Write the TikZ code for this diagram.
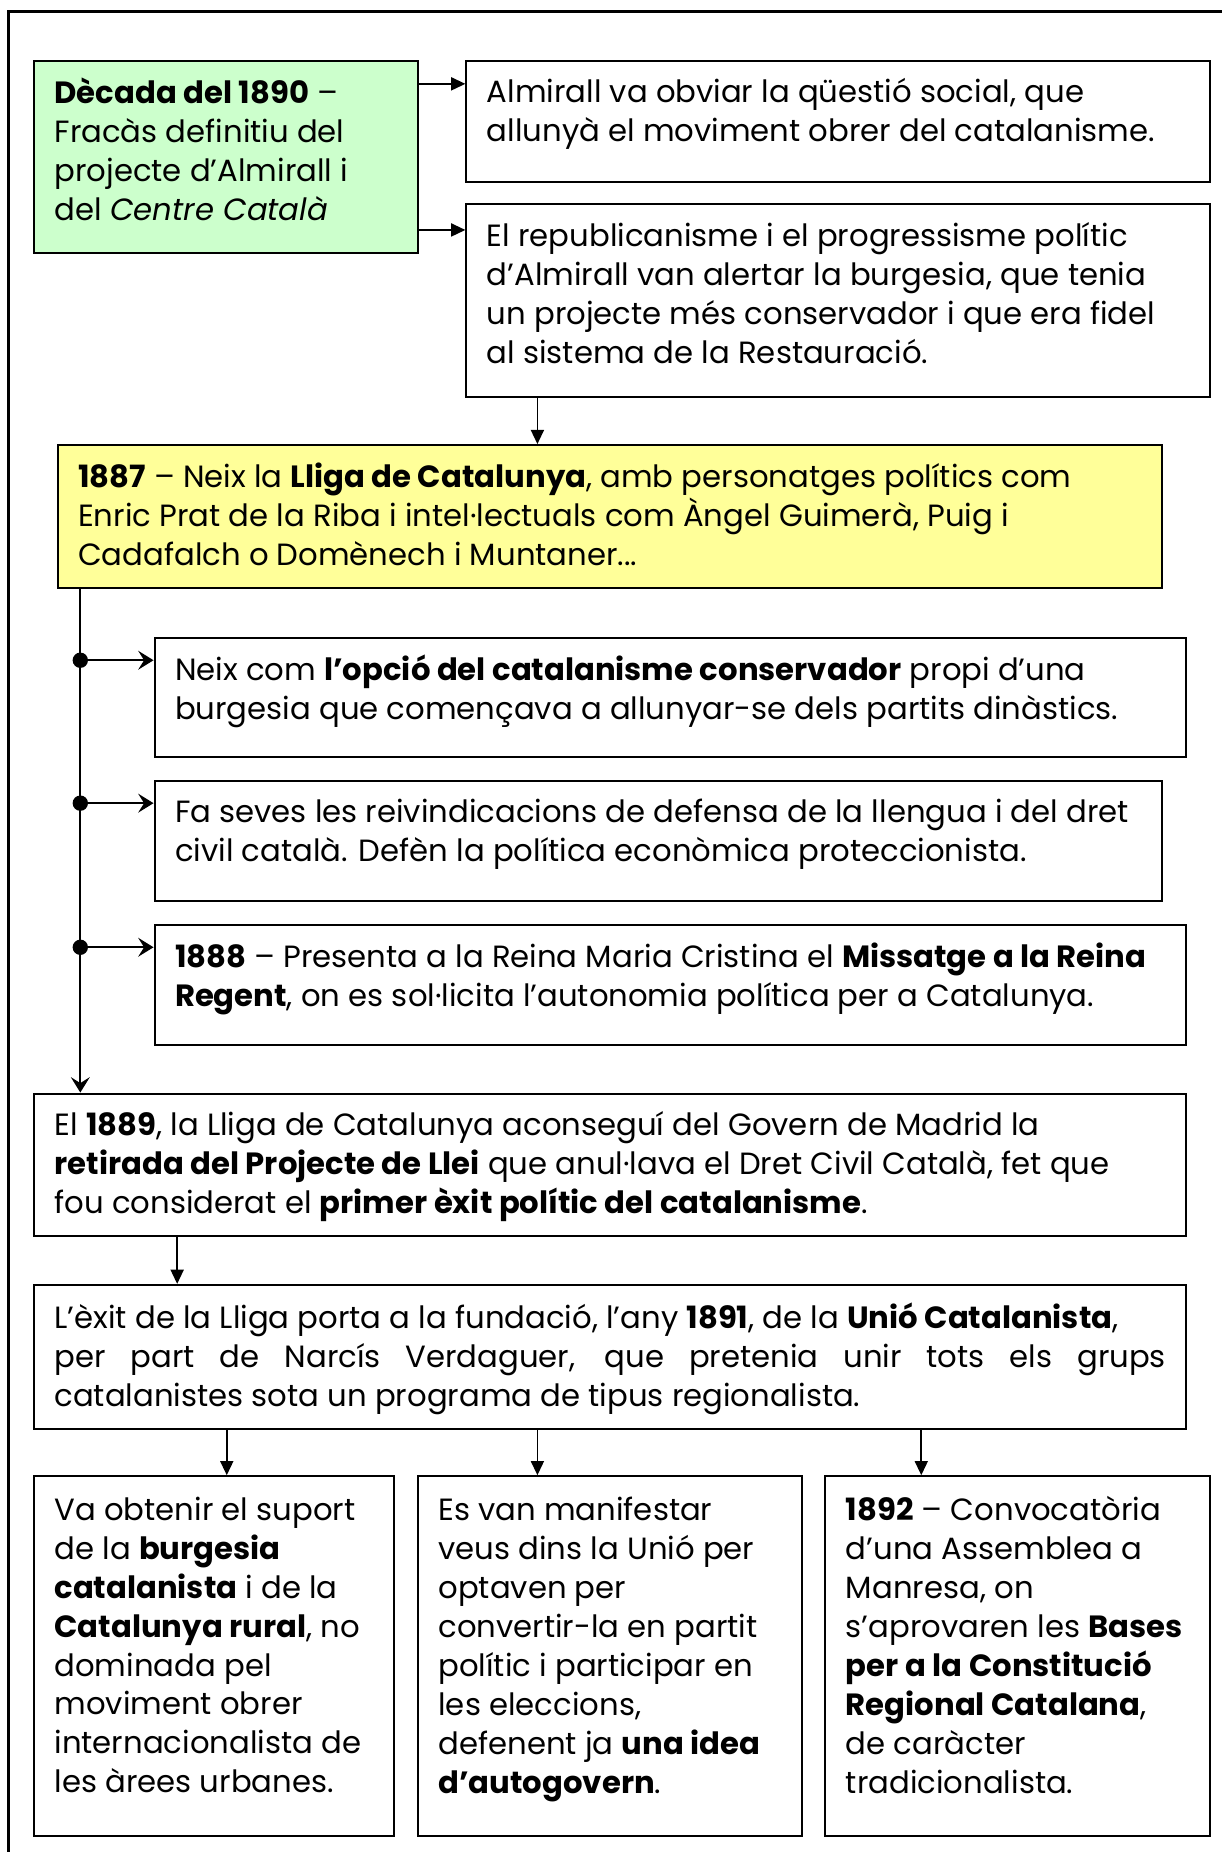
\documentclass[tikz,border=0pt]{standalone}
\usepackage{fontspec}
\setmainfont{Poppins}
\usepackage{tikz}
\usetikzlibrary{arrows.meta, calc}
\definecolor{paleGreen}{HTML}{CCFFCC}
\definecolor{paleYellow}{HTML}{FFFF99}
\tikzset{
    card/.style={rectangle, draw=black, line width=1.7pt, anchor=north west, inner sep=0pt},
    txt/.style={anchor=north west, inner sep=0pt, align=left, font=\fontsize{26}{33}\selectfont,
        execute at begin node=\strut},
    arrow/.style={line width=1.5pt, -{Triangle[length=12pt, width=11pt]}},
    barb/.style={line width=1.5pt, -{Stealth[length=13pt, width=16pt, inset=5pt]}},
    dot/.style={circle, fill=black, inner sep=0pt, minimum size=13pt}
}

\begin{document}
\begin{tikzpicture}[x=1pt, y=-1pt]
    \useasboundingbox (0,0) rectangle (1034,1568);
    % outer frame
    \draw[line width=2.6pt] (7,1570) -- (7,10) -- (1036,10);

    % top row
    \node[card, fill=paleGreen, minimum width=325pt, minimum height=162pt] (green) at (28,51) {};
    \node[txt] (greent) at ([shift={(18,15)}]green.north west)
        {\textbf{Dècada del 1890} –\\ Fracàs definitiu del\\ projecte d’Almirall i\\ del \textit{Centre Català}};
    \node[card, minimum width=630pt, minimum height=102pt] (a1) at (394,51) {};
    \node[txt] (a1t) at ([shift={(18,15)}]a1.north west)
        {Almirall va obviar la qüestió social, que\\ allunyà el moviment obrer del catalanisme.};
    \node[card, minimum width=630pt, minimum height=163pt] (a2) at (394,172) {};
    \node[txt] (a2t) at ([shift={(18,16)}]a2.north west)
        {El republicanisme i el progressisme polític\\ d’Almirall van alertar la burgesia, que tenia\\ un projecte més conservador i que era fidel\\ al sistema de la Restauració.};

    % Lliga de Catalunya
    \node[card, fill=paleYellow, minimum width=935pt, minimum height=121pt] (lliga) at (48,376) {};
    \node[txt] (lligat) at ([shift={(18,16)}]lliga.north west)
        {\textbf{1887} – Neix la \textbf{Lliga de Catalunya}, amb personatges polítics com\\ Enric Prat de la Riba i intel·lectuals com Àngel Guimerà, Puig i\\ Cadafalch o Domènech i Muntaner...};

    \node[card, minimum width=873pt, minimum height=101pt] (b1) at (130,539) {};
    \node[txt] (b1t) at ([shift={(18,15)}]b1.north west)
        {Neix com \textbf{l’opció del catalanisme conservador} propi d’una\\ burgesia que començava a allunyar-se dels partits dinàstics.};
    \node[card, minimum width=853pt, minimum height=102pt] (b2) at (130,660) {};
    \node[txt] (b2t) at ([shift={(18,16)}]b2.north west)
        {Fa seves les reivindicacions de defensa de la llengua i del dret\\ civil català. Defèn la política econòmica proteccionista.};
    \node[card, minimum width=873pt, minimum height=102pt] (b3) at (130,782) {};
    \node[txt] (b3t) at ([shift={(18,16)}]b3.north west)
        {\textbf{1888} – Presenta a la Reina Maria Cristina el \textbf{Missatge a la Reina}\\ \textbf{Regent}, on es sol·licita l’autonomia política per a Catalunya.};

    % 1889 and 1891
    \node[card, minimum width=975pt, minimum height=121pt] (exit) at (28,925) {};
    \node[txt] (exitt) at ([shift={(18,16)}]exit.north west)
        {El \textbf{1889}, la Lliga de Catalunya aconseguí del Govern de Madrid la\\ \textbf{retirada del Projecte de Llei} que anul·lava el Dret Civil Català, fet que\\ fou considerat el \textbf{primer èxit polític del catalanisme}.};
    \node[card, minimum width=975pt, minimum height=122pt] (unio) at (28,1087) {};
    \node[txt] (uniot) at ([shift={(18,16)}]unio.north west)
        {L’èxit de la Lliga porta a la fundació, l’any \textbf{1891}, de la \textbf{Unió Catalanista},\\
         \makebox[941pt][s]{per part de Narcís Verdaguer, que pretenia unir tots els grups}\\
         catalanistes sota un programa de tipus regionalista.};

    % bottom row
    \node[card, minimum width=305pt, minimum height=305pt] (suport) at (28,1249) {};
    \node[txt] (suportt) at ([shift={(18,18)}]suport.north west)
        {Va obtenir el suport\\ de la \textbf{burgesia}\\ \textbf{catalanista} i de la\\ \textbf{Catalunya rural}, no\\ dominada pel\\ moviment obrer\\ internacionalista de\\ les àrees urbanes.};
    \node[card, minimum width=325pt, minimum height=305pt] (veus) at (353,1249) {};
    \node[txt] (veust) at ([shift={(18,18)}]veus.north west)
        {Es van manifestar\\ veus dins la Unió per\\ optaven per\\ convertir-la en partit\\ polític i participar en\\ les eleccions,\\ defenent ja \textbf{una idea}\\ \textbf{d’autogovern}.};
    \node[card, minimum width=326pt, minimum height=305pt] (bases) at (698,1249) {};
    \node[txt] (basest) at ([shift={(18,18)}]bases.north west)
        {\textbf{1892} – Convocatòria\\ d’una Assemblea a\\ Manresa, on\\ s’aprovaren les \textbf{Bases}\\ \textbf{per a la Constitució}\\ \textbf{Regional Catalana},\\ de caràcter\\ tradicionalista.};

    % connectors
    \draw[arrow] ([shift={(0,20)}]green.north east) -- ([shift={(0,20)}]a1.north west);
    \coordinate (g2) at ([shift={(0,-20)}]green.south east);
    \draw[arrow] (g2) -- (g2 -| a2.west);
    \coordinate (a2d) at ([shift={(61,0)}]a2.south west);
    \draw[arrow] (a2d) -- (a2d |- lliga.north);

    \coordinate (trunk) at ([shift={(20,0)}]lliga.south west);
    \draw[barb] (trunk) -- (trunk |- exit.north);
    \foreach \b in {b1,b2,b3} {
        \path (trunk |- \b.north) ++(0,20) node[dot] (dot\b) {};
        \draw[barb] (dot\b.center) -- (dot\b -| \b.west);
    }

    \coordinate (ed) at ([shift={(122,0)}]exit.south west);
    \draw[arrow] (ed) -- (ed |- unio.north);
    \foreach \dx/\t in {164/suport, 427/veus, 752/bases} {
        \coordinate (u\t) at ([shift={(\dx,0)}]unio.south west);
        \draw[arrow] (u\t) -- (u\t |- \t.north);
    }
\end{tikzpicture}
\end{document}
